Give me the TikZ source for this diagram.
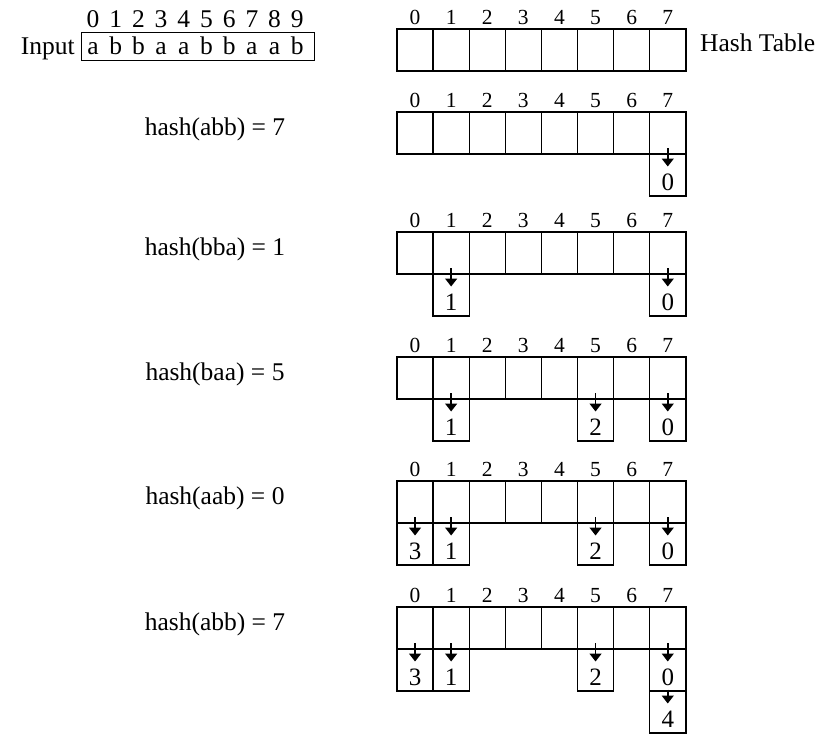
\documentclass[tikz,border=0pt]{standalone}
\usepackage{fontspec}
\setmainfont{Liberation Serif}
\usetikzlibrary{arrows.meta}
\newcommand\htable[2]{%
  \foreach \i in {0,...,7} {
    \node[cell] (#1c\i) at ({397+36.1*\i}, #2) {};
    \node[idx, anchor=base] (#1n\i) at ({397+36.1*\i+18.05}, {#2-5}) {\i};
  }}
\newcommand\bucket[5]{%
  \node[cell, anchor=north] (#3) at (#1.south) {};
  \node[val, anchor=base] (#3v) at ([yshift=-36pt]#3.north) {#4};
  \draw[ptr] ([yshift=#5pt]#3.north) -- ([yshift=-12.5pt]#3.north);}
\begin{document}
\begin{tikzpicture}[x=1pt,y=-1pt,
  cell/.style={draw, line width=1.4pt, minimum width=36.1pt, minimum height=42pt, inner sep=0pt, outer sep=0pt, anchor=north west},
  idx/.style={font=\fontsize{21.5}{22}\selectfont, inner sep=0pt},
  val/.style={font=\fontsize{25}{26}\selectfont, inner sep=0pt},
  lbl/.style={font=\fontsize{25.5}{26}\selectfont, inner sep=0pt},
  ptr/.style={line width=1.5pt, -{Triangle[width=12pt,length=8pt]}}]
\useasboundingbox (0,0) rectangle (827,734);
% input
\node[draw, line width=1.4pt, minimum width=233pt, minimum height=28pt, inner sep=0pt, anchor=north west] (inbox) at (81,32) {};
\node[lbl, anchor=base east] (inlab) at (75,54) {Input};
\foreach \ch [count=\k from 0] in {a,b,b,a,a,b,b,a,a,b} {
  \node[lbl, anchor=base] (in\k) at ({93+22.7*\k}, 54) {\ch};
  \node[lbl, anchor=base] (id\k) at ({93+22.7*\k}, 27) {\k};
}
% tables
\htable{t0}{29}
\node[lbl, anchor=base west] (ht) at (700,51) {Hash Table};
\htable{t1}{112}
\htable{t2}{232}
\htable{t3}{357}
\htable{t4}{481}
\htable{t5}{607}
% buckets
\bucket{t1c7}{7}{b17}{0}{6}
\bucket{t2c1}{1}{b21}{1}{6}
\bucket{t2c7}{7}{b27}{0}{6}
\bucket{t3c1}{1}{b31}{1}{6}
\bucket{t3c5}{5}{b35}{2}{6}
\bucket{t3c7}{7}{b37}{0}{6}
\bucket{t4c0}{0}{b40}{3}{6}
\bucket{t4c1}{1}{b41}{1}{6}
\bucket{t4c5}{5}{b45}{2}{6}
\bucket{t4c7}{7}{b47}{0}{6}
\bucket{t5c0}{0}{b50}{3}{6}
\bucket{t5c1}{1}{b51}{1}{6}
\bucket{t5c5}{5}{b55}{2}{6}
\bucket{t5c7}{7}{b57}{0}{6}
\bucket{b57}{7}{b58}{4}{1.5}
% hash labels
\node[lbl, anchor=base] (h1) at (215,135) {hash(abb) = 7};
\node[lbl, anchor=base] (h2) at (215,255) {hash(bba) = 1};
\node[lbl, anchor=base] (h3) at (215,380) {hash(baa) = 5};
\node[lbl, anchor=base] (h4) at (215,504) {hash(aab) = 0};
\node[lbl, anchor=base] (h5) at (215,630) {hash(abb) = 7};
\end{tikzpicture}
\end{document}
